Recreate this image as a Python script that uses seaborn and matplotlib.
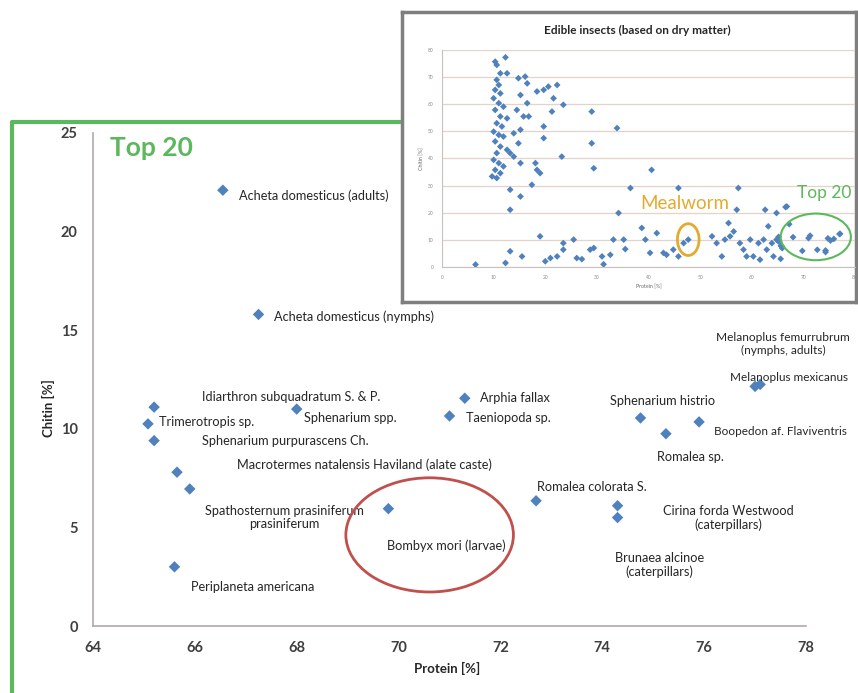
import matplotlib
matplotlib.use("Agg")
import matplotlib.pyplot as plt
import seaborn as sns
import pandas as pd
from matplotlib.patches import Ellipse
from matplotlib.lines import Line2D

# ---------------- data: top 20 (main chart) ----------------
species = [
    "Acheta domesticus (adults)",
    "Acheta domesticus (nymphs)",
    "Idiarthron subquadratum S. & P.",
    "Trimerotropis sp.",
    "Sphenarium purpurascens Ch.",
    "Macrotermes natalensis Haviland (alate caste)",
    "Spathosternum prasiniferum prasiniferum",
    "Periplaneta americana",
    "Sphenarium spp.",
    "Bombyx mori (larvae)",
    "Arphia fallax",
    "Taeniopoda sp.",
    "Romalea colorata S.",
    "Cirina forda Westwood (caterpillars)",
    "Brunaea alcinoe (caterpillars)",
    "Sphenarium histrio",
    "Romalea sp.",
    "Boopedon af. Flaviventris",
    "Melanoplus femurrubrum (nymphs, adults)",
    "Melanoplus mexicanus",
]
protein = [66.55, 67.25, 65.2, 65.08, 65.2, 65.65, 65.9, 65.6, 68.0, 69.8,
           71.3, 71.0, 72.7, 74.3, 74.3, 74.75, 75.25, 75.9, 77.1, 77.0]
chitin = [22.1, 15.8, 11.1, 10.25, 9.4, 7.8, 6.95, 3.0, 11.0, 5.95,
          11.55, 10.65, 6.35, 6.1, 5.5, 10.55, 9.75, 10.35, 12.25, 12.15]

x_ticks = [64, 66, 68, 70, 72, 74, 76, 78]
y_ticks = [0, 5, 10, 15, 20, 25]

# ---------------- data: inset (all edible insects) ----------------
other_protein = [
    12.3, 10.3, 10.6, 11.3, 12.6, 10.6, 11.0, 10.3, 11.3, 10.0, 11.0, 11.9, 10.3,
    11.3, 12.6, 10.6, 11.6, 10.0, 11.0, 11.9, 10.3, 11.3, 12.6, 13.2, 10.6, 10.0,
    11.0, 11.9, 10.3, 11.3, 9.7, 10.6,
    14.8, 16.1, 16.5, 15.2, 16.5, 14.5, 15.8, 16.8, 15.2, 13.9, 14.8, 13.9, 15.2,
    18.1, 18.4, 19.0, 17.4, 13.2, 15.2, 13.2,
    18.4, 19.7, 20.6, 22.3, 21.6, 21.3, 19.7, 19.7, 23.5, 23.2,
    29.0, 29.0, 29.4, 33.9, 34.2, 36.5, 40.6, 45.8, 57.4, 57.1, 62.6, 64.8, 66.8,
    6.5, 12.3, 13.2, 15.5, 19.0, 20.0, 21.0, 22.3, 23.5, 23.5, 25.5, 26.1, 27.1,
    28.7, 29.4, 31.0, 31.3, 32.6, 33.2, 35.2, 35.5, 38.7, 39.4, 40.3, 41.6, 42.9,
    43.5, 44.8, 45.8, 46.8, 52.3, 53.2, 54.2, 54.8, 55.8, 56.5, 55.5, 57.7, 58.4,
    59.0, 59.7, 60.3, 61.3, 61.6, 62.3, 62.9, 63.2, 63.9, 64.2, 64.8, 65.8,
]
other_chitin = [
    77.3, 75.7, 74.5, 71.4, 71.4, 69.0, 67.1, 65.3, 64.0, 62.2, 60.4, 59.1, 57.9,
    55.5, 54.8, 53.0, 51.8, 49.9, 48.7, 48.1, 46.3, 44.4, 43.2, 42.0, 42.0, 39.5,
    38.3, 37.1, 35.8, 34.6, 33.4, 32.8,
    69.6, 70.2, 67.7, 63.4, 60.4, 57.9, 55.5, 55.5, 50.6, 49.3, 45.6, 40.7, 38.3,
    38.3, 35.8, 34.6, 30.3, 28.5, 26.0, 21.1,
    64.7, 65.3, 66.5, 67.1, 62.2, 57.3, 51.8, 47.5, 59.8, 40.7,
    57.3, 45.6, 36.4, 51.2, 19.9, 29.1, 35.8, 29.1, 29.1, 21.1, 21.1, 19.9, 22.3,
    0.9, 1.5, 5.8, 3.9, 11.3, 2.1, 3.3, 3.9, 8.8, 6.4, 10.1, 3.3, 2.9,
    6.4, 7.0, 3.9, 1.0, 4.5, 10.1, 10.1, 6.6, 14.4, 10.1, 5.2, 12.5, 5.2,
    4.5, 6.4, 3.9, 8.8, 11.3, 8.8, 3.9, 10.1, 11.3, 13.1, 16.2, 8.8, 6.4,
    3.9, 10.1, 3.9, 8.8, 2.7, 10.1, 6.4, 15.0, 8.8, 3.9, 10.1, 7.6,
]
mealworm_protein = [47.7]
mealworm_chitin = [10.1]
inset_ticks = [0, 10, 20, 30, 40, 50, 60, 70, 80]

W, H = 858, 693
BLUE = "#4f81bd"
GREEN = "#5cb85c"
ORANGE = "#e3ab2e"


def fx(px):
    return px / W


def fy(py):
    return 1 - py / H


sns.set_theme(style="white")
plt.rcParams['font.family'] = ['Lato', 'DejaVu Sans']

fig = plt.figure(figsize=(W / 100, H / 100), dpi=100)
fig.patch.set_facecolor("white")

# ---------------- main axes ----------------
ax = fig.add_axes([fx(93), fy(626), (806 - 93) / W, (626 - 133) / H])
main_df = pd.DataFrame({"Protein": protein, "Chitin": chitin, "Species": species})
sns.scatterplot(data=main_df, x="Protein", y="Chitin", marker="D", s=34,
                color=BLUE, edgecolor="none", ax=ax, zorder=3, clip_on=False)
ax.set_xlim(64, 78)
ax.set_ylim(0, 25)
ax.set_xticks(x_ticks)
ax.set_yticks(y_ticks)
sns.despine(ax=ax)
for s in ["left", "bottom"]:
    ax.spines[s].set_color("#b3a9a9")
    ax.spines[s].set_linewidth(1.2)
ax.tick_params(direction="out", length=4, width=1, color="#b3a9a9",
               labelsize=10.5, labelcolor="#3f3f3f", pad=7)
for lab in ax.get_xticklabels() + ax.get_yticklabels():
    lab.set_fontweight("bold")
ax.set_xlabel("Protein [%]", fontsize=9.5, fontweight="bold", color="#262626")
ax.set_ylabel("Chitin [%]", fontsize=9.5, fontweight="bold", color="#262626")
ax.xaxis.set_label_coords((447 - 93) / 713, (626 - 662) / 493)
ax.yaxis.set_label_coords((55 - 93) / 713, (626 - 408) / 493)

ax.text(64.34, 24.26, "Top 20", color=GREEN, fontsize=19, fontweight="bold",
        ha="left", va="center")

# (text, x, y, horizontal alignment, font size)
label_layout = [
    ("Acheta domesticus (adults)", 66.86, 21.8, "left", 9.2),
    ("Acheta domesticus (nymphs)", 67.55, 15.7, "left", 9.2),
    ("Idiarthron subquadratum S. & P.", 66.15, 11.6, "left", 9.2),
    ("Trimerotropis sp.", 65.3, 10.35, "left", 9.2),
    ("Sphenarium purpurascens Ch.", 66.15, 9.4, "left", 9.2),
    ("Macrotermes natalensis Haviland (alate caste)", 66.82, 8.17, "left", 9.2),
    ("Spathosternum prasiniferum\nprasiniferum", 67.75, 5.5, "center", 9.2),
    ("Periplaneta americana", 65.93, 2.0, "left", 9.2),
    ("Sphenarium spp.", 68.14, 10.55, "left", 9.2),
    ("Bombyx mori (larvae)", 69.78, 4.06, "left", 9.2),
    ("Arphia fallax", 71.6, 11.57, "left", 9.2),
    ("Taeniopoda sp.", 71.32, 10.56, "left", 9.2),
    ("Romalea colorata S.", 72.72, 7.05, "left", 9.2),
    ("Cirina forda Westwood\n(caterpillars)", 76.47, 5.48, "center", 9.2),
    ("Brunaea alcinoe\n(caterpillars)", 75.12, 3.1, "center", 9.2),
    ("Sphenarium histrio", 74.16, 11.4, "left", 9.2),
    ("Romalea sp.", 75.08, 8.58, "left", 9.2),
    ("Boopedon af. Flaviventris", 76.2, 9.85, "left", 8.5),
    ("Melanoplus femurrubrum\n(nymphs, adults)", 77.55, 14.3, "center", 8.6),
    ("Melanoplus mexicanus", 76.5, 12.6, "left", 8.5),
]
for txt, lx, ly, ha, fs in label_layout:
    ax.text(lx, ly, txt, fontsize=fs, color="#262626", ha=ha, va="center",
            linespacing=1.15, multialignment="center")

ax.add_patch(Ellipse((70.61, 4.62), 3.29, 5.79, fill=False,
                     edgecolor="#c0504d", linewidth=2, zorder=4))

# green frame around the "Top 20" chart
fig.add_artist(Line2D([fx(12), fx(12), fx(410)], [0, fy(122), fy(122)],
                      transform=fig.transFigure, color=GREEN, linewidth=3))

# ---------------- inset ----------------
ax_f = fig.add_axes([fx(402), fy(302), (856 - 402) / W, (302 - 12) / H])
ax_f.set_zorder(5)
ax_f.set_facecolor("white")
ax_f.set_xticks([])
ax_f.set_yticks([])
for s in ax_f.spines.values():
    s.set_color("#7f7f7f")
    s.set_linewidth(2.5)

ax_in = fig.add_axes([fx(442), fy(267), (855 - 442) / W, (267 - 50) / H])
ax_in.set_zorder(6)
ax_in.set_facecolor("none")
inset_df = pd.DataFrame({
    "Protein": other_protein + mealworm_protein + protein,
    "Chitin": other_chitin + mealworm_chitin + chitin,
})
sns.scatterplot(data=inset_df, x="Protein", y="Chitin", marker="D", s=12,
                color=BLUE, edgecolor="none", ax=ax_in, zorder=3)
ax_in.set_xlim(0, 80)
ax_in.set_ylim(0, 80)
ax_in.set_xticks(inset_ticks)
ax_in.set_yticks(inset_ticks)
ax_in.yaxis.grid(True, color="#e4d3c9", linewidth=0.9)
ax_in.set_axisbelow(True)
sns.despine(ax=ax_in)
for s in ["left", "bottom"]:
    ax_in.spines[s].set_color("#c9c0c0")
    ax_in.spines[s].set_linewidth(0.8)
ax_in.tick_params(labelsize=3.5, labelcolor="#8a8a8a", length=2,
                  color="#c9c0c0", pad=4)
ax_in.set_xlabel("Protein [%]", fontsize=3.8, color="#6a6a6a", labelpad=3)
ax_in.set_ylabel("Chitin [%]", fontsize=3.8, color="#6a6a6a", labelpad=3)
ax_in.text((637 - 442) / 413, 1.09, "Edible insects (based on dry matter)",
           transform=ax_in.transAxes, fontsize=8.5, fontweight="bold",
           color="#262626", ha="center", va="center")
ax_in.text(38.4, 23.5, "Mealworm", color=ORANGE, fontsize=13.5, ha="left", va="center")
ax_in.text(68.8, 27.3, "Top 20", color=GREEN, fontsize=12.5, ha="left", va="center")
ax_in.add_patch(Ellipse((47.7, 10.1), 4.2, 11.7, fill=False, edgecolor=ORANGE,
                        linewidth=2, zorder=4))
ax_in.add_patch(Ellipse((72.4, 11.1), 13.6, 17.2, fill=False, edgecolor=GREEN,
                        linewidth=1.5, zorder=4, clip_on=False))

fig.savefig("out.png", dpi=100, facecolor="white")
